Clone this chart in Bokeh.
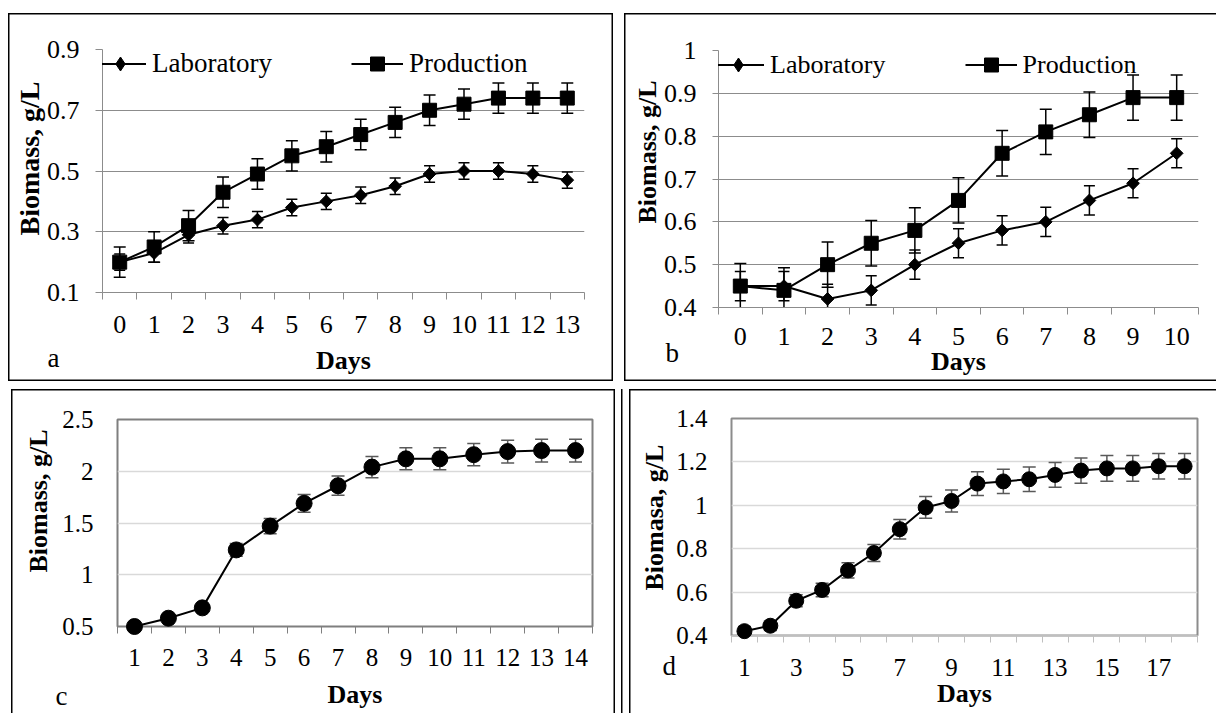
import math
from bokeh.plotting import figure
from bokeh.models import (Range1d, FixedTicker, NumeralTickFormatter, Whisker, TeeHead,
                          ColumnDataSource, Legend, LegendItem, Title)
from bokeh.layouts import row, column
from bokeh.embed import file_html
from bokeh.resources import INLINE

FONT = "Liberation Serif"

# ---------------- data ----------------
days_a = [0, 1, 2, 3, 4, 5, 6, 7, 8, 9, 10, 11, 12, 13]
lab_a = [0.20, 0.23, 0.29, 0.32, 0.34, 0.38, 0.40, 0.42, 0.45, 0.49, 0.50, 0.50, 0.49, 0.47]
lab_a_err = [0.027, 0.03, 0.027, 0.027, 0.027, 0.027, 0.027, 0.027, 0.027, 0.027, 0.027, 0.027, 0.027, 0.027]
prod_a = [0.20, 0.25, 0.32, 0.43, 0.49, 0.55, 0.58, 0.62, 0.66, 0.70, 0.72, 0.74, 0.74, 0.74]
prod_a_err = [0.05, 0.05, 0.05, 0.05, 0.05, 0.05, 0.05, 0.05, 0.05, 0.05, 0.05, 0.05, 0.05, 0.05]
yticks_a = [0.1, 0.3, 0.5, 0.7, 0.9]

days_b = [0, 1, 2, 3, 4, 5, 6, 7, 8, 9, 10]
lab_b = [0.45, 0.45, 0.42, 0.44, 0.50, 0.55, 0.58, 0.60, 0.65, 0.69, 0.76]
lab_b_err = [0.034, 0.034, 0.034, 0.034, 0.034, 0.034, 0.034, 0.034, 0.034, 0.034, 0.034]
prod_b = [0.45, 0.44, 0.50, 0.55, 0.58, 0.65, 0.76, 0.81, 0.85, 0.89, 0.89]
prod_b_err = [0.053, 0.053, 0.053, 0.053, 0.053, 0.053, 0.053, 0.053, 0.053, 0.053, 0.053]
yticks_b = [0.4, 0.5, 0.6, 0.7, 0.8, 0.9, 1.0]

days_c = [1, 2, 3, 4, 5, 6, 7, 8, 9, 10, 11, 12, 13, 14]
bio_c = [0.50, 0.58, 0.68, 1.24, 1.47, 1.69, 1.86, 2.04, 2.12, 2.12, 2.16, 2.19, 2.20, 2.20]
bio_c_err = [0.025, 0.029, 0.034, 0.062, 0.074, 0.085, 0.093, 0.102, 0.106, 0.106, 0.108, 0.11, 0.11, 0.11]
yticks_c = [0.5, 1.0, 1.5, 2.0, 2.5]

days_d = [1, 2, 3, 4, 5, 6, 7, 8, 9, 10, 11, 12, 13, 14, 15, 16, 17, 18]
bio_d = [0.42, 0.445, 0.56, 0.61, 0.70, 0.78, 0.89, 0.99, 1.02, 1.10, 1.11, 1.12, 1.14, 1.16, 1.17, 1.17, 1.18, 1.18]
bio_d_err = [0.021, 0.022, 0.028, 0.031, 0.035, 0.039, 0.045, 0.05, 0.051, 0.055, 0.056, 0.056, 0.057, 0.058, 0.059, 0.059, 0.059, 0.059]
xlabels_d = [1, 3, 5, 7, 9, 11, 13, 15, 17]
yticks_d = [0.4, 0.6, 0.8, 1.0, 1.2, 1.4]

x_title = "Days"
y_title = "Biomass, g/L"
y_title_d = "Biomasa, g/L"
series_names = ["Laboratory", "Production"]
panel_letters = ["a", "b", "c", "d"]


def bounds(days):
    return [d - 0.5 for d in days] + [days[-1] + 0.5]


def base_fig(width, height, xr, yr, borders, margin, shadow):
    left, right, top, bottom = borders
    p = figure(width=width, height=height, x_range=xr, y_range=yr,
               output_backend="svg", toolbar_location=None,
               min_border_left=left, min_border_right=right,
               min_border_top=top, min_border_bottom=bottom, margin=margin)
    p.border_fill_color = None
    p.background_fill_color = None
    p.xgrid.visible = False
    p.styles = {"box-shadow": shadow}
    return p


def style_axes(p, xticks, xminor, yticks, tick_size, grey, ytick_out, xlab_standoff,
               title_standoff, xaxis_color):
    xa = p.xaxis[0]
    xa.ticker = FixedTicker(ticks=xticks, minor_ticks=xminor)
    xa.major_tick_out = 0
    xa.major_tick_in = 0
    xa.minor_tick_out = 7
    xa.minor_tick_in = 0
    xa.minor_tick_line_color = xaxis_color
    xa.axis_line_color = xaxis_color
    xa.major_label_text_font = FONT
    xa.major_label_text_font_size = tick_size
    xa.major_label_text_color = "black"
    xa.major_label_standoff = xlab_standoff
    xa.axis_label = x_title
    xa.axis_label_text_font = FONT
    xa.axis_label_text_font_style = "bold"
    xa.axis_label_text_font_size = "26px"
    xa.axis_label_text_color = "black"
    xa.axis_label_standoff = title_standoff

    ya = p.yaxis[0]
    ya.ticker = FixedTicker(ticks=yticks, minor_ticks=[])
    ya.formatter = NumeralTickFormatter(format="0.[0]")
    ya.major_tick_out = ytick_out
    ya.major_tick_in = 0
    ya.major_tick_line_color = grey
    ya.minor_tick_line_color = None
    ya.axis_line_color = grey
    ya.major_label_text_font = FONT
    ya.major_label_text_font_size = tick_size
    ya.major_label_text_color = "black"
    ya.major_label_standoff = 16 if ytick_out else 24


def add_y_title(p, text, size, offset, standoff):
    # vertical axis title, placed in the left side panel (reads bottom to top)
    t = Title(text=text, align="left", vertical_align="middle", offset=offset, standoff=standoff,
              text_font=FONT, text_font_size=size, text_font_style="bold", text_color="black")
    p.add_layout(t, "left")


def add_series(p, days, vals, errs, marker, size, angle, whisk_color, cap, level="glyph"):
    src = ColumnDataSource(dict(x=days, y=vals,
                                upper=[v + e for v, e in zip(vals, errs)],
                                lower=[v - e for v, e in zip(vals, errs)]))
    w = Whisker(base="x", upper="upper", lower="lower", source=src, dimension="height",
                line_color=whisk_color, line_width=1.5,
                upper_head=TeeHead(size=cap, line_color=whisk_color, line_width=1.5),
                lower_head=TeeHead(size=cap, line_color=whisk_color, line_width=1.5))
    p.add_layout(w)
    ln = p.line("x", "y", source=src, line_color="black", line_width=2)
    sc = p.scatter("x", "y", source=src, marker=marker, size=size, angle=angle,
                   fill_color="black", line_color="black", level=level)
    return ln, sc


def add_series_legend(p, lab_line, prod_line, prod_marker, loc, font_size):
    # legend-only diamond (legend glyphs are drawn unrotated); NaN point is never drawn in the plot
    dia = p.scatter(x=[float("nan")], y=[float("nan")], marker="diamond",
                    fill_color="black", line_color="black")
    leg = Legend(items=[LegendItem(label=series_names[0], renderers=[lab_line, dia]),
                        LegendItem(label=series_names[1], renderers=[prod_line, prod_marker])],
                 location=loc, orientation="horizontal",
                 glyph_width=52, glyph_height=35, label_height=35, label_standoff=6,
                 spacing=79, padding=0, margin=0,
                 border_line_color=None, background_fill_alpha=0,
                 label_text_font=FONT, label_text_font_size=font_size, label_text_color="black")
    p.add_layout(leg, "center")


def add_letter(p, letter, offset, standoff):
    t = Title(text=letter, align="left", vertical_align="top", offset=offset, standoff=standoff,
              text_font=FONT, text_font_size="27px", text_font_style="normal",
              text_color="black")
    p.add_layout(t, "below")


GRID_AB = "#8c8c8c"

# ---------------- panel a ----------------
pa = base_fig(605, 368, Range1d(-0.5, 13.5), Range1d(0.1, 0.9), (94, 29, 36, 89), (13, 0, 0, 8),
              "inset 0 0 0 1.5px #000")
style_axes(pa, days_a, bounds(days_a), yticks_a, "26px", GRID_AB, 7, 16, 10, GRID_AB)
pa.ygrid.grid_line_color = GRID_AB
pa.outline_line_color = None
l1, s1 = add_series(pa, days_a, lab_a, lab_a_err, "square", 9, math.pi / 4, "black", 11)
l2, s2 = add_series(pa, days_a, prod_a, prod_a_err, "square", 14, 0.0, "black", 12)
add_series_legend(pa, l1, l2, s2, (-8, 211), "27px")
add_y_title(pa, y_title, "28px", 57, -5)
add_letter(pa, panel_letters[0], -55, -69)

# ---------------- panel b ----------------
pb = base_fig(592, 368, Range1d(-0.5, 10.5), Range1d(0.4, 1.0), (94, 18, 37, 74), (13, 0, 0, 11),
              "inset 1.5px 1.5px 0 0 #000, inset 0 -1.5px 0 0 #000")
style_axes(pb, days_b, bounds(days_b), yticks_b, "26px", GRID_AB, 6, 13, -1, GRID_AB)
pb.ygrid.grid_line_color = GRID_AB
pb.outline_line_color = None
l3, s3 = add_series(pb, days_b, lab_b, lab_b_err, "square", 9, math.pi / 4, "black", 11)
l4, s4 = add_series(pb, days_b, prod_b, prod_b_err, "square", 14, 0.0, "black", 12)
add_series_legend(pb, l3, l4, s4, (-6, 225), "26px")
add_y_title(pb, y_title, "26px", 84, -4)
add_letter(pb, panel_letters[1], -53, -81)

# ---------------- panel c ----------------
pc = base_fig(604, 324, Range1d(0.5, 14.5), Range1d(0.5, 2.5), (106, 23, 30, 87), (8, 0, 0, 11),
              "inset 1.5px 1.5px 0 0 #000, inset -1.5px 0 0 0 #000")
style_axes(pc, days_c, bounds(days_c), yticks_c, "25px", None, 0, 15, 11, "#7f7f7f")
pc.ygrid.grid_line_color = "#d9d9d9"
pc.ygrid.grid_line_width = 1.5
pc.outline_line_color = "#7f7f7f"
pc.outline_line_width = 2
add_series(pc, days_c, bio_c, bio_c_err, "circle", 16, 0.0, "#595959", 13, level="overlay")
add_y_title(pc, y_title, "26px", 54, 11)
add_letter(pc, panel_letters[2], -62, -61)

# ---------------- panel d ----------------
pd_ = base_fig(595, 324, Range1d(0.5, 18.5), Range1d(0.4, 1.4), (110, 19, 29, 78), (8, 0, 0, 6),
               "inset 1.5px 0 0 0 #000, inset 8px 0 0 0 #fff, inset 9.5px 0 0 0 #000, inset 0 1.5px 0 0 #000")
style_axes(pd_, xlabels_d, bounds(days_d), yticks_d, "25px", None, 0, 16, 0, "#bfbfbf")
pd_.ygrid.grid_line_color = "#d9d9d9"
pd_.ygrid.grid_line_width = 1.5
pd_.outline_line_color = "#8c8c8c"
pd_.outline_line_width = 2
add_series(pd_, days_d, bio_d, bio_d_err, "circle", 15, 0.0, "#595959", 13, level="overlay")
add_y_title(pd_, y_title_d, "26px", 45, 7)
add_letter(pd_, panel_letters[3], -69, -119)

layout = column(row(column(pa), column(pb)), row(column(pc), column(pd_)))
open("out.html", "w").write(file_html(layout, INLINE))
